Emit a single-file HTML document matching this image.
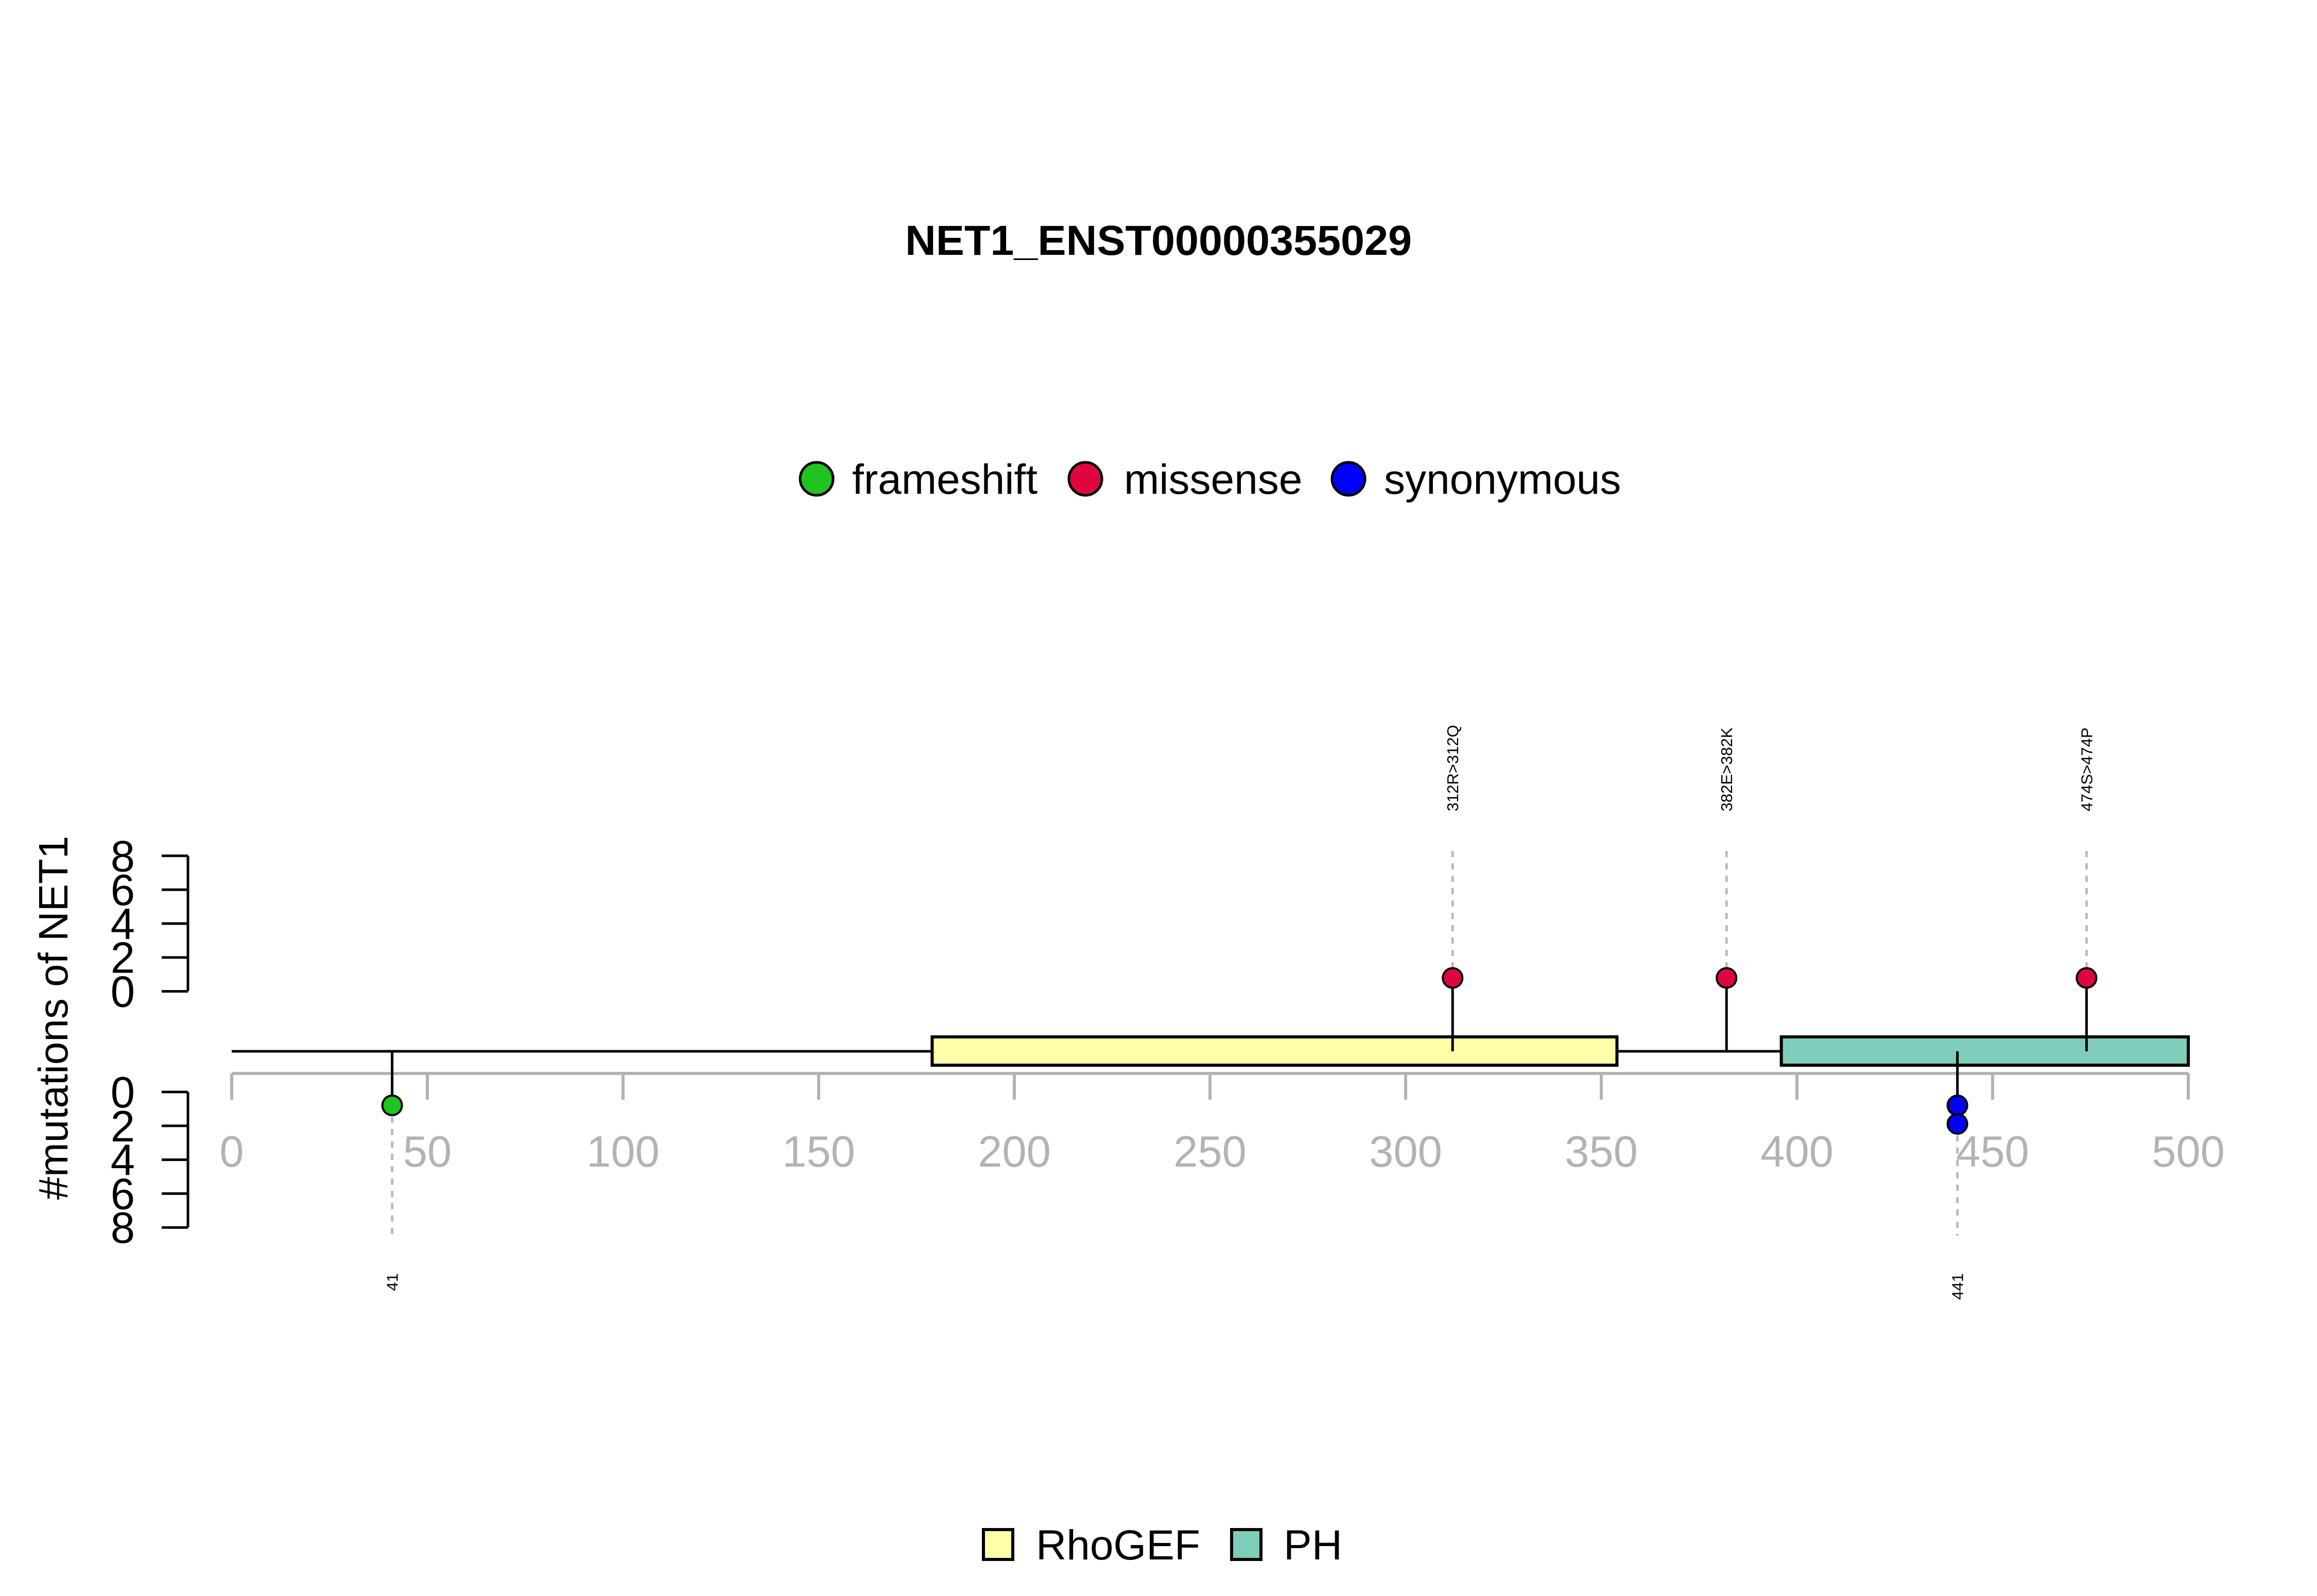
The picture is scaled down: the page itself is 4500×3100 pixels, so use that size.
<!DOCTYPE html>
<html><head><meta charset="utf-8"><style>html,body{margin:0;padding:0;background:#fff}svg{display:block}text{font-family:"Liberation Sans",sans-serif}</style></head>
<body>
<svg id="chart" xmlns="http://www.w3.org/2000/svg" width="4500" height="3100" viewBox="0 0 4500 3100">
<text x="2250" y="495" text-anchor="middle" font-size="82" font-weight="bold" textLength="984" lengthAdjust="spacingAndGlyphs">NET1_ENST00000355029</text>
<g>
<circle cx="1586" cy="930" r="32" fill="#1FC41F" stroke="#000" stroke-width="5"/>
<text x="1655" y="959" font-size="82">frameshift</text>
<circle cx="2108" cy="930" r="32" fill="#DF063F" stroke="#000" stroke-width="5"/>
<text x="2183" y="959" font-size="82">missense</text>
<circle cx="2619" cy="930" r="32" fill="#0000FF" stroke="#000" stroke-width="5"/>
<text x="2688" y="959" font-size="82">synonymous</text>
</g>
<text transform="translate(131,1977) rotate(-90)" text-anchor="middle" font-size="80">#mutations of NET1</text>
<g id="axes"></g>
<g id="domains"></g>
<g id="marks"></g>
<g>
<rect x="1910" y="2971" width="57" height="58" fill="#FFFFAA" stroke="#000" stroke-width="6"/>
<text x="2012" y="3029" font-size="82">RhoGEF</text>
<rect x="2392" y="2971" width="57" height="58" fill="#7FCCBB" stroke="#000" stroke-width="6"/>
<text x="2493" y="3029" font-size="82">PH</text>
</g>
</svg>
<script>
const xTicks = [0,50,100,150,200,250,300,350,400,450,500];
const yTicks = [0,2,4,6,8];
const domainNames = ["RhoGEF","PH"];
const domainStart = [179,396];
const domainEnd = [354,500];
const domainColors = ["#FFFFAA","#7FCCBB"];
const upperPos = [312,382,474];
const upperCount = [1,1,1];
const upperLabels = ["312R>312Q","382E>382K","474S>474P"];
const upperType = ["missense","missense","missense"];
const lowerPos = [41,441];
const lowerCount = [1,2];
const lowerLabels = ["41","441"];
const lowerType = ["frameshift","synonymous"];
const proteinLength = 500;

const NS="http://www.w3.org/2000/svg";
const colors={frameshift:"#1FC41F",missense:"#DF063F",synonymous:"#0000FF"};
const X0=450,X1=4250;
const x=v=>X0+(X1-X0)*v/500;
const upZero=1925.5, loZero=2121, tickStep=65.8/2;
const yUpTick=v=>upZero-tickStep*v;
const yLoTick=v=>loZero+tickStep*v;
const yUpPt=n=>upZero-(36*n-10);
const yLoPt=n=>loZero+(36*n-10);
const BB=2042;
function mk(tag,attrs,parent){const e=document.createElementNS(NS,tag);for(const k in attrs)e.setAttribute(k,attrs[k]);parent.appendChild(e);return e;}
const axes=document.getElementById('axes'),dom=document.getElementById('domains'),marks=document.getElementById('marks');

let ax=mk('line',{x1:x(0),x2:x(500),y1:2085,y2:2085,stroke:'#b3b3b3','stroke-width':6},axes);


xTicks.forEach(t=>{
  const l=mk('line',{x1:x(t),x2:x(t),y1:2085,y2:2136,stroke:'#b3b3b3','stroke-width':6},axes);
  
  
  const tx=mk('text',{x:x(t),y:2266,'text-anchor':'middle','font-size':85,fill:'#b3b3b3'},axes);
  tx.textContent=t;
  
  
});
[[yUpTick,'upper'],[yLoTick,'lower']].forEach(([f,nm])=>{
  const l=mk('line',{x1:365,x2:365,y1:f(0),y2:f(8),stroke:'#000','stroke-width':5},axes);
  
  
  yTicks.forEach(t=>{
    const tk=mk('line',{x1:314,x2:365,y1:f(t),y2:f(t),stroke:'#000','stroke-width':5},axes);
    
    
    const tx=mk('text',{x:262,y:f(t)+30,'text-anchor':'end','font-size':85},axes);
    tx.textContent=t;
    
    
  });
});
let bb=mk('line',{x1:x(0),x2:x(proteinLength),y1:BB,y2:BB,stroke:'#000','stroke-width':5},dom);


domainNames.forEach((n,i)=>{
  const r=mk('rect',{x:x(domainStart[i]),y:2014,width:x(domainEnd[i])-x(domainStart[i]),height:55,fill:domainColors[i],stroke:'#000','stroke-width':6},dom);
  
  
});
upperPos.forEach((p,i)=>{
  const cx=x(p), py=yUpPt(upperCount[i]);
  const d=mk('line',{x1:cx,x2:cx,y1:1653,y2:py-19,stroke:'#bbb','stroke-width':5,'stroke-dasharray':'12 12'},marks);
  
  
  const s=mk('line',{x1:cx,x2:cx,y1:BB,y2:py,stroke:'#000','stroke-width':5},marks);
  
  
  for(let k=1;k<=upperCount[i];k++){
    const c=mk('circle',{cx:cx,cy:yUpPt(k),r:19,fill:colors[upperType[i]],stroke:'#000','stroke-width':4},marks);
    
    
  }
  const t=mk('text',{transform:`translate(${cx+11},1576) rotate(-90)`,'font-size':31},marks);
  t.textContent=upperLabels[i];
  
  
});
lowerPos.forEach((p,i)=>{
  const cx=x(p), py=yLoPt(lowerCount[i]);
  const d=mk('line',{x1:cx,x2:cx,y1:py+22,y2:2400,stroke:'#bbb','stroke-width':5,'stroke-dasharray':'12 12'},marks);
  
  
  const s=mk('line',{x1:cx,x2:cx,y1:BB,y2:py,stroke:'#000','stroke-width':5},marks);
  
  
  for(let k=1;k<=lowerCount[i];k++){
    const c=mk('circle',{cx:cx,cy:yLoPt(k),r:19,fill:colors[lowerType[i]],stroke:'#000','stroke-width':4},marks);
    
    
  }
  const t=mk('text',{transform:`translate(${cx+11},2473) rotate(-90)`,'font-size':31,'text-anchor':'end'},marks);
  t.textContent=lowerLabels[i];
  
  
});
</script>
</body></html>
